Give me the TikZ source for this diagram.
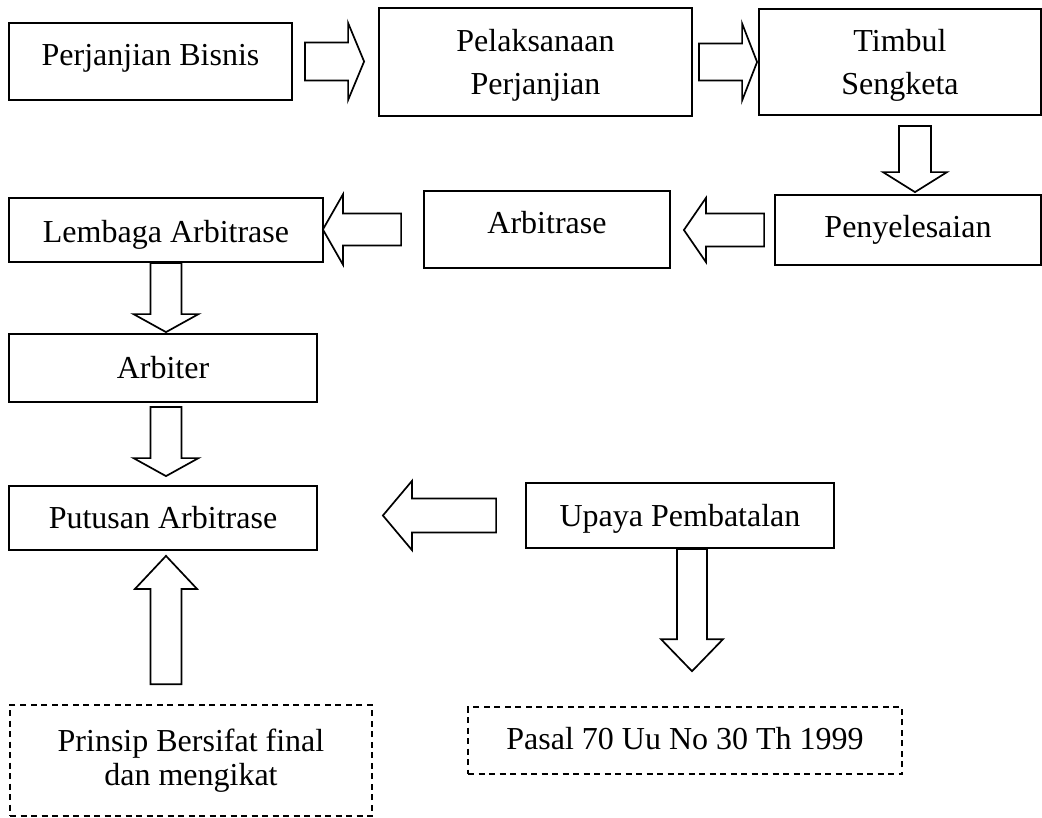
\documentclass[tikz,border=0pt]{standalone}
\usepackage{fontspec}
\setmainfont{Liberation Serif}
\usetikzlibrary{calc}

\tikzset{
  box/.style={draw, rectangle, line width=1.8pt, inner sep=0pt, align=center,
    font=\fontsize{32}{42.5}\selectfont},
  dbox/.style={box, line width=1.6pt, dash pattern=on 6pt off 4.5pt},
  arrowline/.style={draw, line width=1.7pt, line join=miter},
}

% Outlined block arrow from tail #1 to tip #2 along unit direction (#3,#4);
% #5 = half shaft width, #6 = half head width, #7 = head length.
\newcommand\blockarrow[7]{%
  \draw[arrowline]
    ($(#1)+({-(#4)*(#5)},{(#3)*(#5)})$) --
    ($(#2)+({-(#3)*(#7)-(#4)*(#5)},{-(#4)*(#7)+(#3)*(#5)})$) --
    ($(#2)+({-(#3)*(#7)-(#4)*(#6)},{-(#4)*(#7)+(#3)*(#6)})$) --
    (#2) --
    ($(#2)+({-(#3)*(#7)+(#4)*(#6)},{-(#4)*(#7)-(#3)*(#6)})$) --
    ($(#2)+({-(#3)*(#7)+(#4)*(#5)},{-(#4)*(#7)-(#3)*(#5)})$) --
    ($(#1)+({(#4)*(#5)},{-(#3)*(#5)})$) -- cycle;}

\begin{document}
\begin{tikzpicture}[x=1pt, y=-1pt]
\useasboundingbox (0,0) rectangle (1042,817);

% process boxes
\node[box, minimum width=283pt, minimum height=77pt, text height=13pt, text depth=6pt]
  (bisnis) at (150.5,61.5) {Perjanjian Bisnis};
\node[box, minimum width=313pt, minimum height=108pt, text depth=0pt]
  (pelaksanaan) at (535.5,62) {Pelaksanaan\\Perjanjian};
\node[box, minimum width=282pt, minimum height=106pt, text depth=0pt]
  (sengketa) at (900,62) {Timbul\\Sengketa};
\node[box, minimum width=266pt, minimum height=70pt, text height=20pt, text depth=6pt]
  (penyelesaian) at (908,230) {Penyelesaian};
\node[box, minimum width=246pt, minimum height=77pt, text height=13pt, text depth=6pt]
  (arbitrase) at (547,229.5) {Arbitrase};
\node[box, minimum width=314pt, minimum height=64pt, text height=30pt, text depth=6pt]
  (lembaga) at (166,230) {Lembaga Arbitrase};
\node[box, minimum width=308pt, minimum height=68pt, text height=26pt, text depth=6pt]
  (arbiter) at (163,368) {Arbiter};
\node[box, minimum width=308pt, minimum height=64pt, text height=26pt, text depth=6pt]
  (putusan) at (163,518) {Putusan Arbitrase};
\node[box, minimum width=308pt, minimum height=65pt, text height=27pt, text depth=6pt]
  (upaya) at (680,515.5) {Upaya Pembatalan};

% dashed notes
\node[dbox, minimum width=362pt, minimum height=111pt, font=\fontsize{32}{34}\selectfont]
  (prinsip) at (191,760.5) {Prinsip Bersifat final\\dan mengikat};
\node[dbox, minimum width=434pt, minimum height=67pt, text height=23pt, text depth=6pt]
  (pasal) at (685,740.5) {Pasal 70 Uu No 30 Th 1999};

% arrow end points
\coordinate (a1t) at ($(bisnis.east)+(12,0)$);
\coordinate (a1h) at ($(pelaksanaan.west |- bisnis.east)+(-14,0)$);
\coordinate (a2t) at ($(pelaksanaan.east)+(6,0)$);
\coordinate (a2h) at ($(sengketa.west |- pelaksanaan.east)+(-1,0)$);
\coordinate (a3t) at ($(sengketa.south)+(15,10)$);
\coordinate (a3h) at ($(sengketa.south |- penyelesaian.north)+(15,-2)$);
\coordinate (a4t) at ($(penyelesaian.west)+(-10,0)$);
\coordinate (a4h) at ($(arbitrase.east |- penyelesaian.west)+(13,0)$);
\coordinate (a5t) at ($(arbitrase.west)+(-22,0)$);
\coordinate (a5h) at ($(lembaga.east |- arbitrase.west)+(-1,0)$);
\coordinate (a6t) at (lembaga.south);
\coordinate (a6h) at ($(lembaga.south |- arbiter.north)+(0,-1)$);
\coordinate (a7t) at ($(arbiter.south)+(3,4)$);
\coordinate (a7h) at ($(arbiter.south |- putusan.north)+(3,-9)$);
\coordinate (a8t) at ($(upaya.west)+(-29,0)$);
\coordinate (a8h) at ($(putusan.east |- upaya.west)+(65,0)$);
\coordinate (a9t) at ($(putusan.south |- prinsip.north)+(3,-20)$);
\coordinate (a9h) at ($(putusan.south)+(3,5)$);
\coordinate (a10t) at ($(upaya.south)+(12,0)$);
\coordinate (a10h) at ($(upaya.south |- pasal.north)+(12,-35)$);

% block arrows
\blockarrow{a1t}{a1h}{1}{0}{19}{38.5}{16}
\blockarrow{a2t}{a2h}{1}{0}{18.5}{38.5}{15}
\blockarrow{a3t}{a3h}{0}{1}{16}{32}{20}
\blockarrow{a4t}{a4h}{-1}{0}{16.5}{32}{22}
\blockarrow{a5t}{a5h}{-1}{0}{16}{35}{20}
\blockarrow{a6t}{a6h}{0}{1}{15.5}{32.5}{18}
\blockarrow{a7t}{a7h}{0}{1}{15.5}{32.5}{18}
\blockarrow{a8t}{a8h}{-1}{0}{17}{34.5}{29}
\blockarrow{a9t}{a9h}{0}{-1}{15.5}{31}{33}
\blockarrow{a10t}{a10h}{0}{1}{15}{31}{32}
\end{tikzpicture}
\end{document}
